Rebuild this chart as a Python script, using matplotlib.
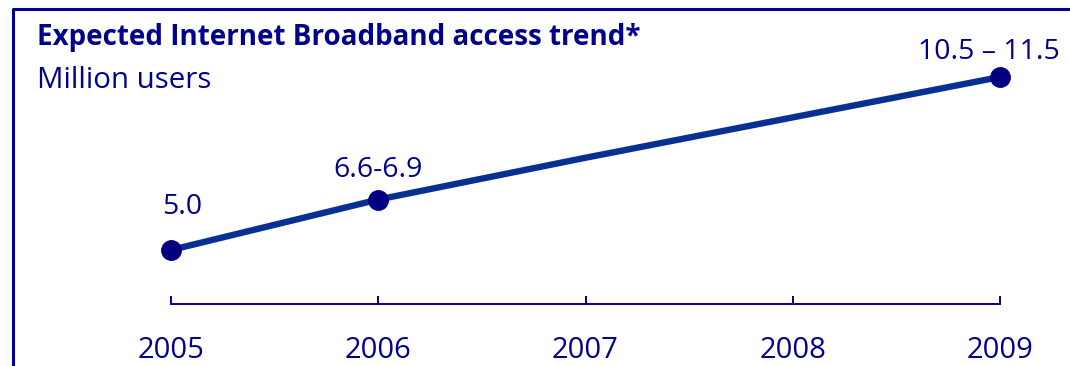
import matplotlib.pyplot as plt
from matplotlib.lines import Line2D

plt.rcParams['font.family'] = ['Open Sans', 'DejaVu Sans']

years = [2005, 2006, 2007, 2008, 2009]
users = [5.0, 6.75, 8.2, 9.6, 11.0]
labels = {0: "5.0", 1: "6.6-6.9", 4: "10.5 \u2013 11.5"}
label_offsets = {0: (8, 31), 1: (0, 21), 4: (-8, 18)}

text_col = '#00008f'
line_col = '#083093'
dot_col = '#000080'

fig = plt.figure(figsize=(10.7, 3.66), dpi=100)
ax = fig.add_axes([0, 62 / 366, 1, 304 / 366])

ax.plot(years, users, color=line_col, lw=4.6, solid_capstyle='round',
        marker='o', markersize=14, markevery=[0, 1, 4],
        markerfacecolor=dot_col, markeredgecolor=dot_col, zorder=3)

for i, txt in labels.items():
    ax.annotate(txt, (years[i], users[i]), xytext=label_offsets[i],
                textcoords='offset points', ha='center', va='center',
                fontsize=20.5, color=text_col)

ax.set_xlim(2005 - 171 / 207.25, 2009 + 70 / 207.25)
ax.set_ylim(5 - 54 / 28.83, 5 + 250 / 28.83)

for s in ['top', 'right', 'left']:
    ax.spines[s].set_visible(False)
ax.spines['bottom'].set_bounds(2005, 2009)
ax.spines['bottom'].set_color(text_col)
ax.spines['bottom'].set_linewidth(1.4)
ax.set_yticks([])
ax.set_xticks(years)
ax.set_xticklabels([str(y) for y in years])
ax.tick_params(axis='x', direction='in', length=6, width=1.4, color=text_col,
               labelcolor=text_col, labelsize=21, pad=23)
ax.patch.set_visible(False)

fig.text(37 / 1070, 1 - 38 / 366, "Expected Internet Broadband access trend*",
         fontsize=20, fontweight='bold', color=text_col, va='center', ha='left')
fig.text(37 / 1070, 1 - 81 / 366, "Million users",
         fontsize=21.2, color=text_col, va='center', ha='left')

# frame on left and top
fig.add_artist(Line2D([13 / 1070, 13 / 1070, 1], [0, 1 - 9 / 366, 1 - 9 / 366],
                      transform=fig.transFigure, color=text_col, lw=2.2))

fig.savefig('out.png', dpi=100)
